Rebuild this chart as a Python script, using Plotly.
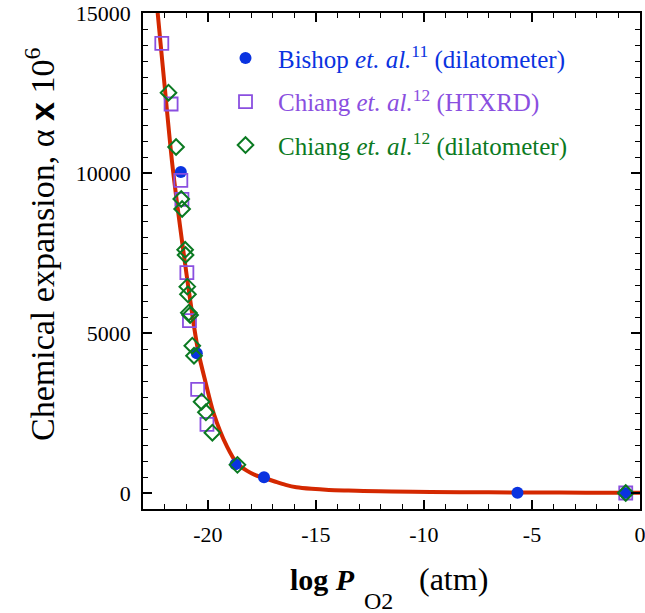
import plotly.graph_objects as go

# ---- data ----
bishop_x = [-21.25, -20.51, -18.72, -17.40, -5.67, -0.68]
bishop_y = [10031, 4365, 900, 490, 10, 0]

htxrd_x = [-22.13, -21.70, -21.25, -21.20, -20.97, -20.85, -20.47, -20.04, -0.66]
htxrd_y = [14053, 12156, 9771, 9177, 6885, 5385, 3240, 2146, 0]

dil_x = [-21.82, -21.47, -21.23, -21.19, -21.05, -21.03, -20.95, -20.92, -20.88,
         -20.82, -20.72, -20.64, -20.29, -20.09, -19.79, -18.63, -0.66]
dil_y = [12510, 10813, 9187, 8875, 7600, 7437, 6448, 6209, 5635,
         5563, 4604, 4291, 2853, 2521, 1885, 880, 0]

fit_x = [-22.45, -22.32, -22.01, -21.64, -21.17, -20.66, -20.43, -20.12, -19.73,
         -19.11, -18.65, -18.20, -17.80, -17.40, -16.90, -16.40, -15.90, -15.20,
         -14.40, -13.50, -12.80, -11.50, -9.70, -7.00, -5.00, -2.50, 0.0]
fit_y = [16000, 15000, 12800, 10250, 7750, 5300, 4375, 3500, 2490,
         1447, 928, 700, 560, 470, 360, 255, 180, 130,
         95, 75, 62, 45, 31, 20, 15, 11, 8]

x_tickvals = [-20, -15, -10, -5, 0]
x_ticktext = ["-20", "-15", "-10", "-5", "0"]
y_tickvals = [0, 5000, 10000, 15000]
y_ticktext = ["0", "5000", "10000", "15000"]

BLUE = "#0a33e0"
PURPLE = "#8a4fe0"
GREEN = "#0b7a22"
RED = "#d42800"
SERIF = "Liberation Serif"

fig = go.Figure()

fig.add_trace(go.Scatter(x=fit_x, y=fit_y, mode="lines",
                         line=dict(color=RED, width=4, shape="spline", smoothing=0.8),
                         showlegend=False, hoverinfo="skip"))

NB = "&nbsp;&nbsp;"
fig.add_trace(go.Scatter(
    x=bishop_x, y=bishop_y, mode="markers",
    marker=dict(symbol="circle", size=12, color=BLUE),
    name=NB + "<span style='color:%s'>Bishop <i>et. al.</i><sup>11</sup> (dilatometer)</span>" % BLUE,
    legendgroup="a"))
fig.add_trace(go.Scatter(
    x=htxrd_x, y=htxrd_y, mode="markers",
    marker=dict(symbol="square-open", size=13, color=PURPLE, line=dict(width=1.8, color=PURPLE)),
    name=NB + "<span style='color:%s'>Chiang <i>et. al.</i><sup>12</sup> (HTXRD)</span>" % PURPLE,
    legendgroup="b"))
fig.add_trace(go.Scatter(
    x=dil_x, y=dil_y, mode="markers",
    marker=dict(symbol="diamond-open", size=12, color=GREEN, line=dict(width=2, color=GREEN)),
    name=NB + "<span style='color:%s'>Chiang <i>et. al.</i><sup>12</sup> (dilatometer)</span>" % GREEN,
    legendgroup="c"))

axis_common = dict(
    showline=True, linecolor="black", linewidth=1.5, mirror="ticks",
    ticks="inside", ticklen=9, tickwidth=1.5, tickcolor="black",
    showgrid=False, zeroline=False, automargin=False,
    ticklabeloverflow="allow",
)

fig.update_xaxes(
    range=[-23, 0], tickvals=x_tickvals, ticktext=x_ticktext,
    tickfont=dict(family=SERIF, size=22, color="black"),
    minor=dict(ticks="inside", ticklen=5, tickwidth=1.2, tickcolor="black", dtick=1, tick0=0),
    ticklabelstandoff=5,
    **axis_common)
fig.update_yaxes(
    range=[-500, 15000], tickvals=y_tickvals, ticktext=y_ticktext,
    tickfont=dict(family=SERIF, size=22, color="black"),
    minor=dict(ticks="inside", ticklen=5, tickwidth=1.2, tickcolor="black", dtick=500, tick0=0),
    ticklabelstandoff=6,
    **axis_common)

# y-axis title
fig.add_annotation(
    text="Chemical expansion, α <span style='font-family:Liberation Sans;font-weight:bold'>x</span> 10<sup>6</sup>",
    xref="paper", yref="paper", x=0, y=0.5, xanchor="center", yanchor="middle",
    xshift=-103, yshift=16, textangle=-90, showarrow=False,
    font=dict(family=SERIF, size=34, color="black"))

# x-axis title in three parts (main text, low subscript, unit)
fig.add_annotation(text="<b>log <i>P</i></b>", xref="paper", yref="paper",
                   x=(357 - 143) / 497, y=0, xanchor="right", yanchor="middle",
                   yshift=-70, showarrow=False, font=dict(family=SERIF, size=30, color="black"))
fig.add_annotation(text="O2", xref="paper", yref="paper",
                   x=(362 - 143) / 497, y=0, xanchor="left", yanchor="middle",
                   yshift=-92, showarrow=False, font=dict(family=SERIF, size=24, color="black"))
fig.add_annotation(text="(atm)", xref="paper", yref="paper",
                   x=(417 - 143) / 497, y=0, xanchor="left", yanchor="middle",
                   yshift=-70, showarrow=False, font=dict(family=SERIF, size=32, color="black"))

fig.update_layout(
    width=645, height=613,
    margin=dict(l=143, r=5, t=13, b=104),
    font=dict(family=SERIF, color="black"),
    paper_bgcolor="white", plot_bgcolor="white",
    legend=dict(x=0.166, y=0.955, xanchor="left", yanchor="top", valign="top",
                font=dict(family=SERIF, size=25, color="black"),
                bgcolor="rgba(0,0,0,0)", traceorder="grouped", tracegroupgap=8),
)

fig.write_html("out.html", config={"displayModeBar": False},
               post_script="document.body.style.margin='0px';")
